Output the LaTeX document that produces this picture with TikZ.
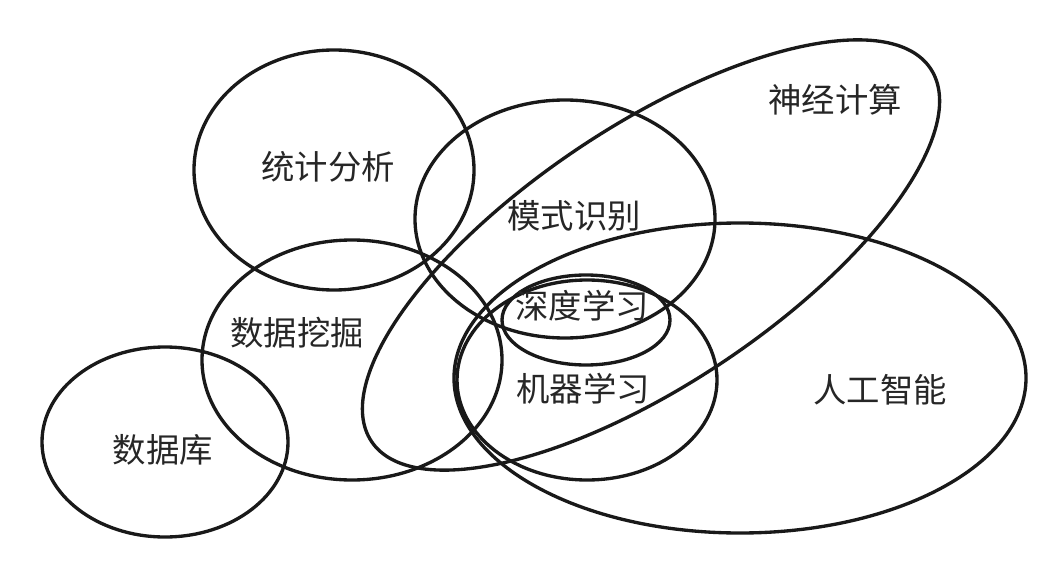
\documentclass[tikz,border=0pt]{standalone}
\usepackage{fontspec}
\newfontfamily\cjk{Noto Sans CJK SC}
\usepackage{tikz}

\begin{document}
\begin{tikzpicture}[
    x=0.02cm, y=0.02cm,
    every node/.style={font=\cjk\fontsize{19}{21}\selectfont, inner sep=0pt, text=black!85},
    setline/.style={line width=1.9pt, black!90}
]
\useasboundingbox (0,0) rectangle (1044,562);

% fields as ellipses
\draw[setline] (334,392) ellipse [x radius=140, y radius=120];
\draw[setline] (352,202) ellipse [x radius=150, y radius=120];
\draw[setline] (165,120) ellipse [x radius=123, y radius=95];
\draw[setline] (565,343) ellipse [x radius=150, y radius=119];
\draw[setline, rotate around={33.7:(651,307)}] (651,307) ellipse [x radius=336, y radius=129];
\draw[setline] (740,184) ellipse [x radius=286, y radius=155];
\draw[setline] (587,182) ellipse [x radius=130, y radius=100];
\draw[setline] (586,242) ellipse [x radius=84, y radius=45];

% labels
\node (stat) at (328,395) {统计分析};
\node (mining) at (297,229) {数据挖掘};
\node (db) at (163,112) {数据库};
\node (pattern) at (574,346) {模式识别};
\node (neural) at (835,462) {神经计算};
\node (deep) at (582,256) {深度学习};
\node (ml) at (583,173) {机器学习};
\node (ai) at (880,172) {人工智能};
\end{tikzpicture}
\end{document}
